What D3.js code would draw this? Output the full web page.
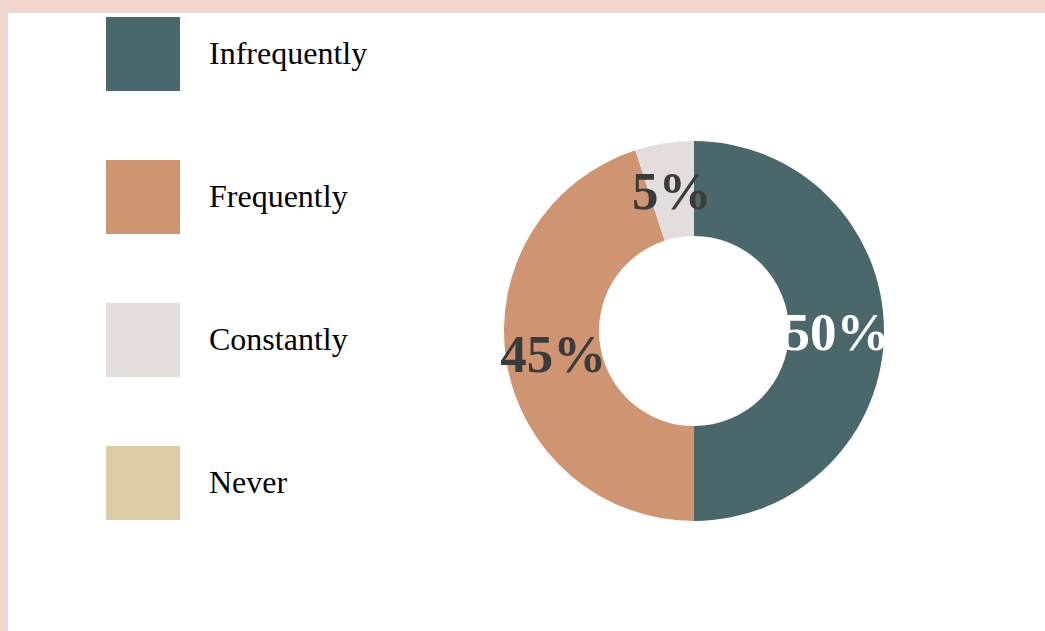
<!DOCTYPE html>
<html>
<head>
<meta charset="utf-8">
<script src="https://cdn.jsdelivr.net/npm/d3@7"></script>
<style>
  body { margin: 0; background: #f5d6ce; overflow: hidden; }
  #panel {
    position: absolute; left: 6px; top: 11px;
    width: 1100px; height: 700px;
    background: #fff; border: 2px solid #dedede;
  }
  svg { position: absolute; left: -8px; top: -13px; }
</style>
</head>
<body>
<div id="panel"><svg id="chart"></svg></div>
<script>
const categories = ["Infrequently", "Frequently", "Constantly", "Never"];
const values = [50, 45, 5, 0];
const colors = ["#4a676c", "#cf9471", "#e3dedc", "#dccca3"];
const labelColors = ["#ffffff", "#3b3b3b", "#3b3b3b", "#3b3b3b"];

const width = 1045;
const height = 631;
const svg = d3.select("#chart")
  .attr("width", width)
  .attr("height", height);

const data = categories.map((c, i) => ({ cat: c, value: values[i], color: colors[i], lc: labelColors[i] }));

// legend
const legendY = d3.scaleBand()
  .domain(categories)
  .range([17, 17 + 143 * categories.length])
  .paddingInner(0);

const legend = svg.selectAll(".legend")
  .data(data)
  .enter()
  .append("g")
  .attr("class", "legend")
  .attr("transform", d => `translate(106, ${legendY(d.cat)})`);

legend.append("rect")
  .attr("width", 74)
  .attr("height", 74)
  .attr("fill", d => d.color);

legend.append("text")
  .attr("x", 103)
  .attr("y", 36)
  .attr("dy", "0.35em")
  .style("font-family", "'Liberation Serif', 'Times New Roman', serif")
  .style("font-size", "32px")
  .attr("fill", "#000")
  .text(d => d.cat);

// donut
const outer = 190;
const inner = 95;
const g = svg.append("g").attr("transform", "translate(694, 331)");

const pie = d3.pie().value(d => d.value).sort(null);
const arc = d3.arc().innerRadius(inner).outerRadius(outer);

const arcs = pie(data).filter(d => d.data.value > 0);

g.selectAll("path")
  .data(arcs)
  .enter()
  .append("path")
  .attr("d", arc)
  .attr("fill", d => d.data.color);

g.selectAll(".lbl")
  .data(arcs)
  .enter()
  .append("text")
  .attr("class", "lbl")
  .attr("transform", d => `translate(${arc.centroid(d)})`)
  .attr("text-anchor", "middle")
  .attr("dy", "0.35em")
  .style("font-family", "'Liberation Serif', 'Times New Roman', serif")
  .style("font-weight", "bold")
  .style("font-size", "53px")
  .attr("fill", d => d.data.lc)
  .text(d => d.data.value + "%");
</script>
</body>
</html>
